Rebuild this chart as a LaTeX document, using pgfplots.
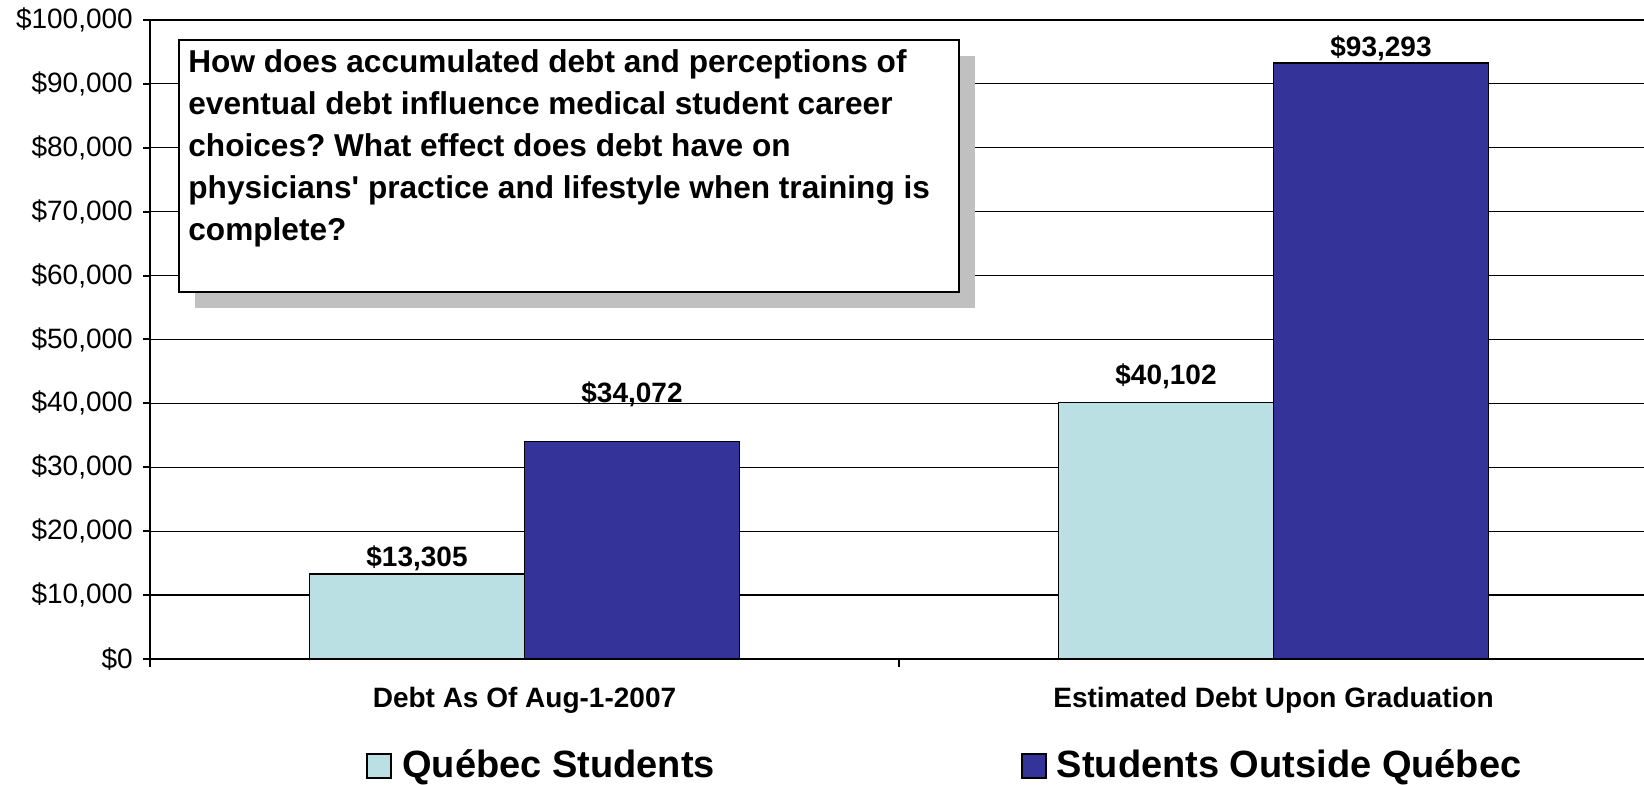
\documentclass[border=0pt]{standalone}
\usepackage{fontspec}
\setmainfont{Liberation Sans}[Ligatures=TeXOff]
\usepackage{pgfplots}
\pgfplotsset{compat=1.18}
\definecolor{qc}{RGB}{186,224,228}
\definecolor{oq}{RGB}{51,51,153}
\definecolor{shadowgray}{RGB}{192,192,192}
\frenchspacing
\begin{document}
\begin{tikzpicture}
\useasboundingbox (0,0) rectangle (822pt,392.5pt);
\begin{axis}[
  at={(75pt,63pt)}, anchor=south west,
  scale only axis, width=749pt, height=319.5pt,
  xmin=-0.5, xmax=1.5, ymin=0, ymax=100000,
  clip=false,
  axis x line*=bottom, axis y line*=left,
  axis line style={line width=1pt},
  ybar, bar width=0.287,
  scaled y ticks=false,
  ytick={0,10000,20000,30000,40000,50000,60000,70000,80000,90000,100000},
  yticklabels={{\$0},{\$10,000},{\$20,000},{\$30,000},{\$40,000},{\$50,000},{\$60,000},{\$70,000},{\$80,000},{\$90,000},{\$100,000}},
  yticklabel style={anchor=east, inner sep=0pt, xshift=-4.9pt, font=\fontsize{14}{16}\selectfont},
  ymajorgrids, grid style={black, line width=0.6pt},
  tick align=outside, major tick length=3.5pt,
  tick style={black, line width=1pt},
  xtick={0,1},
  xticklabels={Debt As Of Aug-1-2007, Estimated Debt Upon Graduation},
  xticklabel style={anchor=base, inner sep=0pt, yshift=-21pt, font=\bfseries\fontsize{14}{16}\selectfont},
  major x tick style={draw=none},
  minor xtick={-0.5,0.5,1.5}, minor tick length=4pt,
  minor x tick style={black, line width=1pt},
  legend style={draw=none, fill=none, inner sep=0pt, legend columns=2,
    at={(axis description cs:0.1442,-0.1915)}, anchor=south west,
    font=\bfseries\fontsize{19}{22}\selectfont,
    nodes={inner sep=0pt, anchor=base},
    column sep=5pt,
    /tikz/every even column/.append style={column sep=153pt}},
  legend image code/.code={\draw[#1, line width=1pt] (0pt,0pt) rectangle (12pt,12pt);},
  /pgf/number format/assume math mode=true,
  /pgf/number format/1000 sep={,},
]
\addplot[fill=qc, draw=black, line width=0.75pt, bar shift=-0.1435,
  nodes near coords={\$\pgfmathprintnumber{\pgfplotspointmeta}},
  visualization depends on={value \thisrow{s} \as \lshift},
  every node near coord/.append style={anchor=base, inner sep=0pt, yshift=\lshift pt, font=\bfseries\fontsize{14}{16}\selectfont}]
  table {
x y s
0 13305 3.5
1 40102 9
};
\addlegendentry{Québec Students}
\addplot[fill=oq, draw=black, line width=0.75pt, bar shift=0.1435,
  nodes near coords={\$\pgfmathprintnumber{\pgfplotspointmeta}},
  visualization depends on={value \thisrow{s} \as \lshift},
  every node near coord/.append style={anchor=base, inner sep=0pt, yshift=\lshift pt, font=\bfseries\fontsize{14}{16}\selectfont}]
  table {
x y s
0 34072 19.5
1 93293 3
};
\addlegendentry{Students Outside Québec}
\end{axis}
\fill[shadowgray] (97.5pt,238.5pt) rectangle (487.5pt,364.5pt);
\draw[line width=0.75pt, fill=white] (89.5pt,246.5pt) rectangle (479.5pt,372.5pt);
\node[anchor=north west, inner sep=0pt, align=left, font=\bfseries\fontsize{15.8}{21}\selectfont] at (94pt,367.7pt)
{How does accumulated debt and perceptions of\\
eventual debt influence medical student career\\
choices? What effect does debt have on\\
physicians' practice and lifestyle when training is\\
complete?};
\end{tikzpicture}
\end{document}
